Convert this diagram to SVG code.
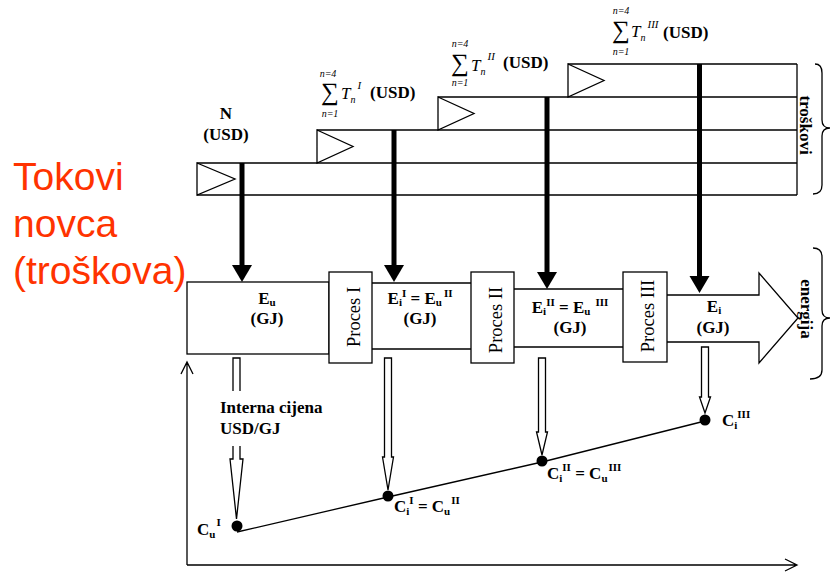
<svg xmlns="http://www.w3.org/2000/svg" width="830" height="572" viewBox="0 0 830 572">
<style>
.ln{fill:none;stroke:#000;stroke-width:1.3}
.box{fill:#fff;stroke:#000;stroke-width:1.3}
.b{font-family:"Liberation Serif",serif;font-weight:bold;font-size:17px;fill:#000}
.r{font-family:"Liberation Serif",serif;font-size:18.5px;fill:#000}
.it{font-family:"Liberation Serif",serif;font-style:italic;fill:#000}
.sig{font-family:"Liberation Serif",serif;font-size:25px;fill:#000}
.sm{font-size:11px}
.red{font-family:"Liberation Sans",Arial,sans-serif;font-size:39px;fill:#ff3300}
.thick{stroke:#000;stroke-width:5}
</style>

<g id="title">
<text class="red" x="13" y="190">Tokovi</text>
<text class="red" x="13" y="237">novca</text>
<text class="red" x="13" y="284">(troškova)</text>
</g>

<g id="cost-band">
<path class="ln" d="M568,64H797 M438,97H797 M317,130H797 M197,163H797 M197,195H797 M797,64V195"/>
<path class="ln" d="M197,163L235,179L197,195Z"/>
<path class="ln" d="M317,130L353,146.5L317,163Z"/>
<path class="ln" d="M438,97L474,113.5L438,130Z"/>
<path class="ln" d="M568,64L604,80.5L568,97Z"/>
</g>

<g id="label-N">
<text class="b" font-size="17.5" x="226" y="119" text-anchor="middle">N</text>
<text class="b" font-size="17.5" x="226" y="140" text-anchor="middle">(USD)</text>
</g>

<g id="label-sum1">
<text class="it" font-size="10" x="328" y="77" text-anchor="middle">n=4</text>
<text class="sig" x="330" y="100" text-anchor="middle">∑</text>
<text class="it" font-size="10" x="330" y="117" text-anchor="middle">n=1</text>
<text class="it" font-size="17" x="341" y="99">T<tspan font-size="10" dy="4">n</tspan><tspan font-size="11" dx="2" dy="-14">I</tspan></text>
<text class="b" font-size="17.5" x="370" y="98">(USD)</text>
</g>

<g id="label-sum2">
<text class="it" font-size="10" x="460" y="47" text-anchor="middle">n=4</text>
<text class="sig" x="460" y="71" text-anchor="middle">∑</text>
<text class="it" font-size="10" x="460" y="86" text-anchor="middle">n=1</text>
<text class="it" font-size="17" x="471" y="71">T<tspan font-size="10" dy="4">n</tspan><tspan font-size="11" dx="2" dy="-15">II</tspan></text>
<text class="b" font-size="17.5" x="503" y="68">(USD)</text>
</g>

<g id="label-sum3">
<text class="it" font-size="10" x="621" y="14" text-anchor="middle">n=4</text>
<text class="sig" x="621" y="38" text-anchor="middle">∑</text>
<text class="it" font-size="10" x="621" y="55" text-anchor="middle">n=1</text>
<text class="it" font-size="17" x="631" y="37">T<tspan font-size="10" dy="4">n</tspan><tspan font-size="11" dx="2" dy="-13">III</tspan></text>
<text class="b" font-size="17.5" x="663" y="38">(USD)</text>
</g>

<g id="brace-troskovi">
<path class="ln" d="M815,64Q822,64 822,73V120Q822,128 830,128Q822,128 822,136V185Q822,194 813,194"/>
<text class="b" font-size="18" transform="translate(800,125) rotate(90)" text-anchor="middle">troškovi</text>
</g>

<g id="brace-energija">
<path class="ln" d="M813,248Q822,248 822,257V310Q822,318 830,318Q822,318 822,326V370Q822,379 810,379"/>
<text class="b" font-size="18" transform="translate(801,309) rotate(90)" text-anchor="middle">energija</text>
</g>

<g id="energy-Eu">
<rect class="box" x="187" y="282" width="142" height="72"/>
<text class="b" x="267" y="304" text-anchor="middle">E<tspan class="sm" dy="2">u</tspan></text>
<text class="b" x="267" y="324" text-anchor="middle">(GJ)</text>
</g>

<g id="energy-E2">
<path class="ln" d="M372,283H471 M372,349H471"/>
<text class="b" x="420" y="304" text-anchor="middle">E<tspan class="sm" dy="2">i</tspan><tspan class="sm" dy="-9">I</tspan><tspan dy="7"> = E</tspan><tspan class="sm" dy="2">u</tspan><tspan class="sm" dx="2" dy="-9">II</tspan></text>
<text class="b" x="420" y="324" text-anchor="middle">(GJ)</text>
</g>

<g id="energy-E3">
<path class="ln" d="M514,289H623 M514,347H623"/>
<text class="b" x="570" y="313" text-anchor="middle">E<tspan class="sm" dy="2">i</tspan><tspan class="sm" dy="-9">II</tspan><tspan dy="7"> = E</tspan><tspan class="sm" dy="2">u</tspan><tspan class="sm" dx="5" dy="-9">III</tspan></text>
<text class="b" x="570" y="333" text-anchor="middle">(GJ)</text>
</g>

<g id="energy-Ei">
<path class="box" d="M667,295H759V273L798,318L759,363V342H667"/>
<text class="b" x="714" y="312" text-anchor="middle">E<tspan class="sm" dy="2">i</tspan></text>
<text class="b" x="713" y="333" text-anchor="middle">(GJ)</text>
</g>

<g id="proces-I">
<rect class="box" x="329" y="272" width="43" height="91"/>
<text class="r" transform="translate(360,317) rotate(-90)" text-anchor="middle">Proces I</text>
</g>
<g id="proces-II">
<rect class="box" x="471" y="272" width="43" height="91"/>
<text class="r" transform="translate(502,320) rotate(-90)" text-anchor="middle">Proces II</text>
</g>
<g id="proces-III">
<rect class="box" x="623" y="272" width="44" height="90"/>
<text class="r" transform="translate(654,316) rotate(-90)" text-anchor="middle">Proces III</text>
</g>

<g id="connectors">
<line class="thick" x1="242" y1="163" x2="242" y2="268"/>
<path d="M232,265H252L242,282Z"/>
<line class="thick" x1="394" y1="130" x2="394" y2="268"/>
<path d="M384,265H404L394,282Z"/>
<line class="thick" x1="547" y1="97" x2="547" y2="275"/>
<path d="M537,272H557L547,289Z"/>
<line class="thick" x1="699.5" y1="64" x2="699.5" y2="279"/>
<path d="M689.5,276H709.5L699.5,293Z"/>

<path class="ln" d="M233,391V358H240V391"/>
<path class="box" d="M233,446V459H230L236.5,519L243,459H240V446"/>
<path class="box" d="M384.5,358V457H382.5L388,490L393.5,457H391.5V358Z"/>
<path class="box" d="M538.5,358V432H536.5L542,455L547.5,432H545.5V358Z"/>
<path class="box" d="M701.5,347V397H699.5L705,413L710.5,397H708.5V347Z"/>

<polyline class="ln" points="237,532 388,497 542,462 705,421"/>
<circle cx="237" cy="526" r="5.5"/>
<circle cx="388" cy="496" r="5.5"/>
<circle cx="542" cy="461" r="5.5"/>
<circle cx="705" cy="420" r="5.5"/>

<path class="ln" d="M187,565V362 M181,374L187,362L193,374 M187,565H797 M785,559L797,565L785,571"/>
</g>

<g id="price-labels">
<text class="b" font-size="18" x="220" y="413">Interna cijena</text>
<text class="b" font-size="18" x="220" y="434">USD/GJ</text>
<text class="b" x="197" y="535">C<tspan class="sm" dy="3">u</tspan><tspan class="sm" dx="1" dy="-12">I</tspan></text>
<text class="b" x="394" y="512">C<tspan class="sm" dy="3">i</tspan><tspan class="sm" dy="-11">I</tspan><tspan dy="8"> = C</tspan><tspan class="sm" dy="3">u</tspan><tspan class="sm" dx="1" dy="-11">II</tspan></text>
<text class="b" x="547" y="479">C<tspan class="sm" dy="3">i</tspan><tspan class="sm" dy="-11">II</tspan><tspan dy="8"> = C</tspan><tspan class="sm" dy="3">u</tspan><tspan class="sm" dx="1" dy="-11">III</tspan></text>
<text class="b" x="722" y="426">C<tspan class="sm" dy="3">i</tspan><tspan class="sm" dy="-11">III</tspan></text>
</g>
</svg>
